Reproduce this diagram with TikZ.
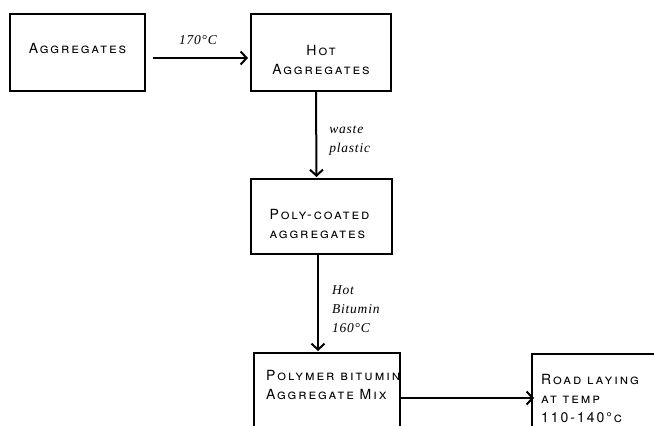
\documentclass[tikz,border=0pt]{standalone}
\usepackage{fontspec}
\usetikzlibrary{arrows.meta}
\newfontfamily\boxfont[Letters=SmallCaps,LetterSpace=14]{TeX Gyre Heros}
\newfontfamily\notefont[LetterSpace=6]{Liberation Serif}

\tikzset{
    stage/.style={draw,line width=2pt,inner sep=0pt},
    caption/.style={font=\boxfont\fontsize{14}{19}\selectfont,align=center,inner sep=0pt},
    flow/.style={line width=2pt,-{Straight Barb[length=6pt,width=13pt,line width=2pt]}},
    note/.style={font=\notefont\itshape\fontsize{13.5}{19}\selectfont,align=left,inner sep=0pt}
}

\begin{document}
\begin{tikzpicture}[x=1pt,y=-1pt]
    \clip (0,0) rectangle (654,426);

    \node[stage,minimum width=135pt,minimum height=77pt,
        label={[caption,yshift=4.5pt]center:Aggregates}] (agg) at (77.5,52.5) {};
    \node[stage,minimum width=140pt,minimum height=77pt,
        label={[caption,yshift=-7pt]center:Hot\\Aggregates}] (hot) at (321,52.5) {};
    \node[stage,minimum width=141pt,minimum height=75pt,
        label={[caption,align=left,yshift=-7pt,xshift=-2pt]center:Poly-coated\\aggregates}] (poly) at (321.5,216.5) {};
    \node[stage,anchor=north west,minimum width=146pt,minimum height=110pt,
        label={[caption,align=left,anchor=north west,xshift=13pt,yshift=-18pt]north west:Polymer bitumin\\Aggregate Mix}] (mix) at (253,352) {};
    \node[stage,anchor=north west,minimum width=140pt,minimum height=110pt,
        label={[caption,align=left,anchor=north west,xshift=10pt,yshift=-21pt]north west:Road laying\\at temp\\110-140°c}] (road) at (531,353) {};

    \draw[flow,shorten <=7pt,shorten >=2pt] ([yshift=-5.5pt]agg.east) -- node[note,above=12pt] {170°C} ([yshift=-5.5pt]hot.west);
    \draw[flow,shorten >=1pt] ([xshift=-5pt]hot.south) -- node[note,right=12pt,yshift=-6pt] {waste\\plastic} ([xshift=-5pt]poly.north);
    \draw[flow,shorten >=1pt] ([xshift=-3.5pt]poly.south) -- node[note,right=13pt,yshift=-6pt] {Hot\\Bitumin\\160°C} ([xshift=-3.5pt]poly.south |- mix.north);
    \draw[flow,shorten >=-3pt] ([yshift=-46pt]mix.north east) -- ([yshift=-46pt]mix.north east -| road.west);
\end{tikzpicture}
\end{document}
